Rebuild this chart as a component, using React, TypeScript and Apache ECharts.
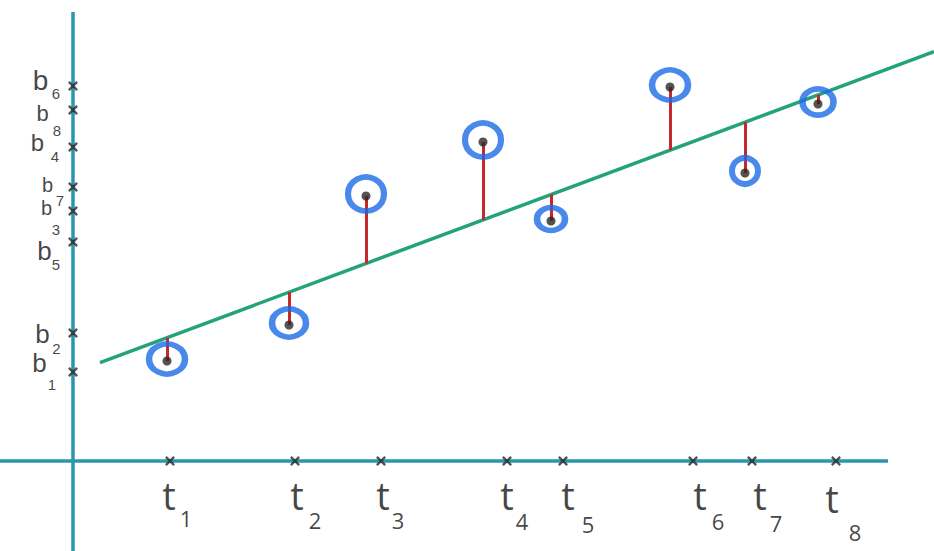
import React, { useEffect, useRef } from "react";
import * as echarts from "echarts";

// observation times (x of each measured point) and measured values
const pointX = [9.4, 21.6, 29.3, 41.0, 47.8, 59.7, 67.2, 74.5];
const pointY = [10.0, 13.6, 26.5, 31.9, 24.0, 37.4, 28.8, 35.7];

// tick marks on the time axis (t1..t8)
const tTicks = [9.7, 22.2, 30.8, 43.4, 49.0, 62.0, 67.9, 76.3];
const tLabels = ["1", "2", "3", "4", "5", "6", "7", "8"];

// tick marks on the value axis (b1..b8)
const bTicks = [8.9, 12.8, 25.0, 31.4, 21.9, 37.5, 27.4, 35.1];
const bLabels = ["1", "2", "3", "4", "5", "6", "7", "8"];

// fitted line end points
const fitStart = [2.7, 9.83];
const fitEnd = [86.1, 40.94];

// axis extents
const hAxis = [[-7.3, 0], [81.5, 0]];
const vAxis = [[0, -9.0], [0, 44.9]];

// ---- styles (hand-lettered label placement, ring sizes) ----
const ringSizes = [[36, 30], [34, 28], [36, 34], [36, 34], [28, 23], [36, 30], [26, 26], [31, 26]];
const tMainOffset = [[-1, 34], [2, 34], [2, 34], [0, 34], [5, 34], [7, 34], [8, 34], [-4, 37]];
const tSubOffset = [[16, 57], [20, 59], [17, 59], [15, 60], [25, 63], [25, 60], [24, 62], [19, 71]];
const bMainOffset = [[-33.5, -9], [-30.5, 1], [-26.5, -3], [-35.5, -5], [-28.5, 9], [-32.5, -6], [-25.5, -2], [-30.5, 3]];
const bMainSize = [26, 26, 20, 24, 26, 28, 20, 22];
const bSubOffset = [[-21, 12], [-16.5, 15], [-17, 18], [-18, 9], [-17, 22], [-17, 7], [-13, 13], [-16, 20]];

const fitAt = (x: number) =>
  fitStart[1] + ((fitEnd[1] - fitStart[1]) * (x - fitStart[0])) / (fitEnd[0] - fitStart[0]);

const XMARK =
  "path://M0,1.7L1.7,0L5,3.3L8.3,0L10,1.7L6.7,5L10,8.3L8.3,10L5,6.7L1.7,10L0,8.3L3.3,5Z";

const T_FONT = "Open Sans";
const B_FONT = "Liberation Sans";
const INK = "#141414";

export default function App() {
  const ref = useRef<HTMLDivElement>(null);
  useEffect(() => {
    if (!ref.current) return;
    const chart = echarts.init(ref.current, undefined, { renderer: "svg" });
    const teal = "#2a97ae";
    chart.setOption({
      animation: false,
      backgroundColor: "#ffffff",
      grid: { left: 0, right: 0, top: 0, bottom: 0 },
      xAxis: { type: "value", min: -7.3, max: 86.1, show: false },
      yAxis: { type: "value", min: -9.0, max: 46.1, show: false },
      series: [
        {
          type: "line",
          data: hAxis,
          symbol: "none",
          lineStyle: { color: teal, width: 3.5 },
          z: 1,
        },
        {
          type: "line",
          data: vAxis,
          symbol: "none",
          lineStyle: { color: teal, width: 3.5 },
          z: 1,
        },
        {
          type: "line",
          data: [fitStart, fitEnd],
          symbol: "none",
          lineStyle: { color: "#24a37b", width: 3.5 },
          z: 2,
        },
        {
          type: "lines",
          coordinateSystem: "cartesian2d",
          data: pointX.map((x, i) => ({ coords: [[x, fitAt(x)], [x, pointY[i]]] })),
          lineStyle: { color: "#c4282c", width: 3, opacity: 1 },
          z: 3,
        },
        {
          type: "scatter",
          data: pointX.map((x, i) => ({ value: [x, pointY[i]], symbolSize: ringSizes[i] })),
          symbol: "circle",
          symbolOffset: [0, -2],
          itemStyle: { color: "rgba(0,0,0,0)", borderColor: "#1a6be6", borderWidth: 6 },
          z: 4,
        },
        {
          type: "scatter",
          data: pointX.map((x, i) => [x, pointY[i]]),
          symbol: "circle",
          symbolSize: 9,
          itemStyle: { color: "#2e2626" },
          z: 5,
        },
        {
          type: "scatter",
          data: tTicks.map((x, i) => ({
            value: [x, 0],
            label: { offset: tMainOffset[i] },
          })),
          symbol: XMARK,
          symbolSize: 10,
          itemStyle: { color: "#2a2a2a" },
          label: {
            show: true,
            position: "inside",
            formatter: () => "t",
            fontFamily: T_FONT,
            fontSize: 38,
            lineHeight: 28,
            color: INK,
          },
          z: 6,
        },
        {
          type: "scatter",
          data: tTicks.map((x, i) => ({
            value: [x, 0],
            name: tLabels[i],
            label: { offset: tSubOffset[i] },
          })),
          symbolSize: 0,
          label: {
            show: true,
            position: "inside",
            formatter: (p: any) => p.name,
            fontFamily: T_FONT,
            fontSize: 22,
            lineHeight: 18,
            color: INK,
          },
          z: 6,
        },
        {
          type: "scatter",
          data: bTicks.map((y, i) => ({
            value: [0, y],
            label: { offset: bMainOffset[i], fontSize: bMainSize[i] },
          })),
          symbol: XMARK,
          symbolSize: 10,
          itemStyle: { color: "#2a2a2a" },
          label: {
            show: true,
            position: "inside",
            formatter: () => "b",
            fontFamily: B_FONT,
            color: INK,
          },
          z: 6,
        },
        {
          type: "scatter",
          data: bTicks.map((y, i) => ({
            value: [0, y],
            name: bLabels[i],
            label: { offset: bSubOffset[i] },
          })),
          symbolSize: 0,
          label: {
            show: true,
            position: "inside",
            formatter: (p: any) => p.name,
            fontFamily: B_FONT,
            fontSize: 15,
            color: INK,
          },
          z: 6,
        },
      ],
    });
    return () => chart.dispose();
  }, []);
  return (
    <div
      ref={ref}
      style={{ position: "fixed", left: 0, top: 0, width: 934, height: 551, background: "#fff" }}
    />
  );
}
